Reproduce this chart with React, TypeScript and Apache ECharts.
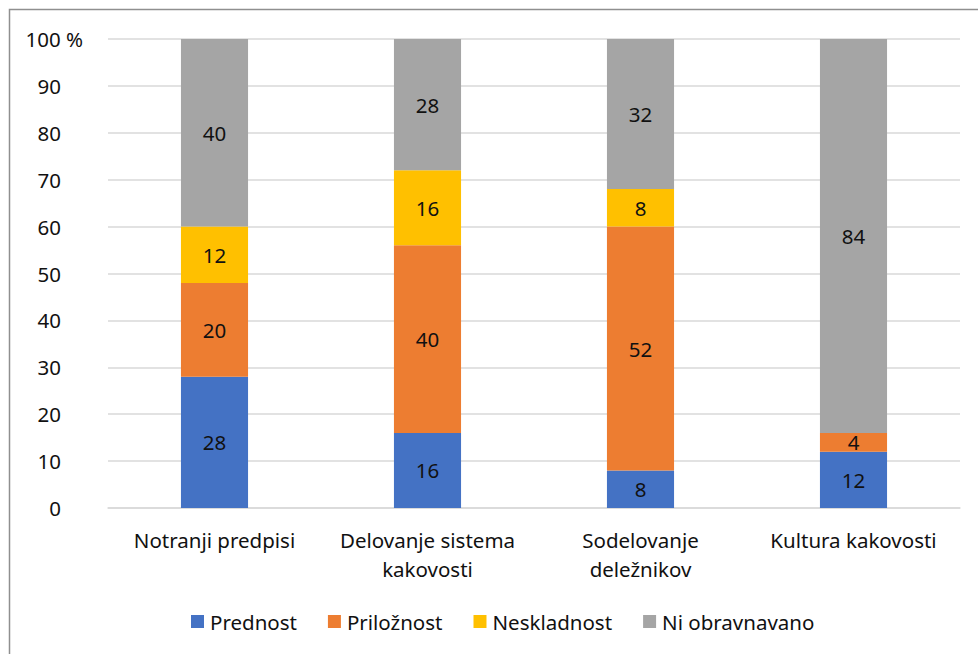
import React, { useEffect, useRef } from "react";
import * as echarts from "echarts";

const categories = ["Notranji predpisi", "Delovanje sistema\nkakovosti", "Sodelovanje\ndeležnikov", "Kultura kakovosti"];
const seriesNames = ["Prednost", "Priložnost", "Neskladnost", "Ni obravnavano"];
const prednost = [28, 16, 8, 12];
const priloznost = [20, 40, 52, 4];
const neskladnost = [12, 16, 8, 0];
const niObravnavano = [40, 28, 32, 84];
const colors = ["#4472C4", "#ED7D31", "#FFC000", "#A5A5A5"];

const FONT = "Noto Sans";
const TEXT = "#111111";
const FS = 20.5;

export default function App() {
  const ref = useRef<HTMLDivElement>(null);
  useEffect(() => {
    if (!ref.current) return;
    const chart = echarts.init(ref.current, null, { renderer: "svg" });
    const values = [prednost, priloznost, neskladnost, niObravnavano];
    chart.setOption({
      animation: false,
      backgroundColor: "#ffffff",
      textStyle: { fontFamily: FONT },
      graphic: [
        {
          type: "rect",
          shape: { x: 9.5, y: 9.5, width: 1000, height: 700 },
          style: { fill: "none", stroke: "#8f8f8f", lineWidth: 1.5 },
          silent: true,
        },
      ],
      grid: { left: 108, right: 18, top: 39, bottom: 146 },
      legend: {
        data: seriesNames,
        top: 606,
        left: 186,
        itemWidth: 13,
        itemHeight: 13,
        itemGap: 31,
        icon: "rect",
        textStyle: { fontFamily: FONT, fontSize: FS, color: TEXT, padding: [0, 0, 0, 1] },
      },
      xAxis: {
        type: "category",
        data: categories,
        axisTick: { show: false },
        axisLine: { lineStyle: { color: "#D9D9D9", width: 1.5 } },
        axisLabel: { fontFamily: FONT, fontSize: FS, color: TEXT, margin: 17, lineHeight: 29, interval: 0 },
      },
      yAxis: {
        type: "value",
        min: 0,
        max: 100,
        interval: 10,
        axisLine: { show: false },
        axisTick: { show: false },
        splitLine: { lineStyle: { color: "#D9D9D9", width: 1.5 } },
        axisLabel: {
          fontFamily: FONT,
          fontSize: FS,
          color: TEXT,
          margin: 25,
          formatter: (v: number) => (v === 100 ? "100 %" : v + "{s|}"),
          rich: { s: { width: 22 } },
        },
      },
      series: seriesNames.map((name, i) => ({
        name,
        type: "bar",
        stack: "total",
        barWidth: "31.5%",
        data: values[i],
        itemStyle: { color: colors[i] },
        label: {
          show: true,
          position: "inside",
          fontFamily: FONT,
          fontSize: FS,
          color: TEXT,
          formatter: (p: any) => (p.value === 0 ? "" : String(p.value)),
        },
      })),
    });
    return () => chart.dispose();
  }, []);
  return <div ref={ref} style={{ position: "fixed", left: 0, top: 0, width: 978, height: 654 }} />;
}
